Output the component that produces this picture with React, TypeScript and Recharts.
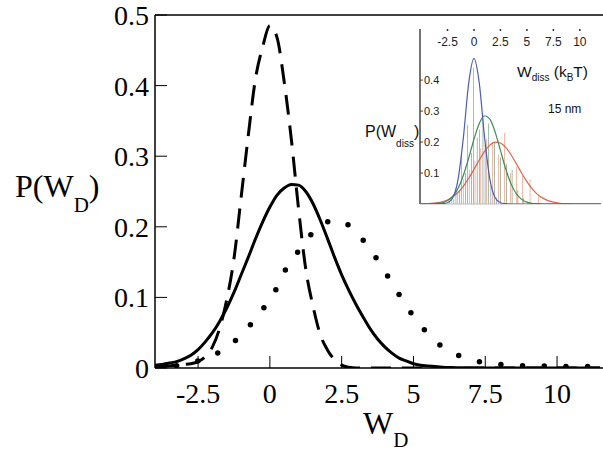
import { LineChart, Line, XAxis, YAxis, ReferenceLine, ComposedChart, Bar, Cell } from "recharts";

// main plot: W_D grid and the three distributions
const wdGrid = [
  -4, -3.75, -3.5, -3.25, -3, -2.75, -2.5, -2.25, -2, -1.75, -1.5, -1.25, -1, -0.75, -0.5, -0.25,
  0, 0.25, 0.5, 0.75, 1, 1.25, 1.5, 1.75, 2, 2.25, 2.5, 2.75, 3, 3.25, 3.5, 3.75, 4, 4.25, 4.5, 4.75,
  5, 5.25, 5.5, 5.75, 6, 6.5, 7, 7.5, 8, 8.5, 9, 9.5, 10, 10.5, 11, 11.5,
];
const dashedP = [
  0.001, 0.002, 0.003, 0.004, 0.005, 0.006, 0.009, 0.016, 0.03, 0.056, 0.097, 0.155, 0.242, 0.33, 0.41, 0.455,
  0.485, 0.468, 0.405, 0.323, 0.225, 0.14, 0.088, 0.048, 0.026, 0.012, 0.004, 0.001, 0, 0, 0, 0, 0, 0, 0, 0,
  0, 0, 0, 0, 0, 0, 0, 0, 0, 0, 0, 0, 0, 0, 0, 0,
];
const solidP = [
  0.004, 0.005, 0.007, 0.009, 0.013, 0.018, 0.026, 0.037, 0.05, 0.066, 0.085, 0.107, 0.132, 0.157, 0.183, 0.207,
  0.228, 0.245, 0.255, 0.26, 0.259, 0.25, 0.233, 0.21, 0.184, 0.157, 0.132, 0.11, 0.09, 0.072, 0.055, 0.041, 0.03, 0.021, 0.014, 0.01,
  0.006, 0.004, 0.003, 0.002, 0.001, 0.0005, 0, 0, 0, 0, 0, 0, 0, 0, 0, 0,
];
const dottedP = [
  0.001, 0.0015, 0.002, 0.003, 0.005, 0.007, 0.01, 0.013, 0.017, 0.023, 0.03, 0.037, 0.047, 0.058, 0.07, 0.083,
  0.098, 0.114, 0.136, 0.152, 0.166, 0.18, 0.192, 0.201, 0.207, 0.21, 0.208, 0.202, 0.193, 0.181, 0.168, 0.153, 0.137, 0.12, 0.104, 0.088,
  0.073, 0.06, 0.049, 0.039, 0.03, 0.019, 0.012, 0.007, 0.005, 0.004, 0.003, 0.003, 0.002, 0.002, 0.002, 0.002,
];
const wdTicks = [-2.5, 0, 2.5, 5, 7.5, 10];
const pTicks = [0, 0.1, 0.2, 0.3, 0.4, 0.5];

// inset: W_diss fits and histogram bars
const insetGrid = [
  -5, -4.5, -4, -3.5, -3, -2.5, -2, -1.5, -1, -0.5, 0, 0.5, 1, 1.5, 2, 2.5, 3, 3.5,
  4, 4.5, 5, 5.5, 6, 6.5, 7, 7.5, 8, 8.5, 9, 9.5, 10, 10.5, 11, 11.5, 12,
];
const blueFit = [
  0, 0, 0, 0, 0.001, 0.004, 0.02, 0.08, 0.215, 0.39, 0.47, 0.39, 0.215, 0.08, 0.02, 0.004, 0.001, 0,
  0, 0, 0, 0, 0, 0, 0, 0, 0, 0, 0, 0, 0, 0, 0, 0, 0,
];
const greenFit = [
  0, 0, 0.001, 0.002, 0.004, 0.011, 0.025, 0.051, 0.093, 0.148, 0.209, 0.26, 0.285, 0.274, 0.232, 0.173, 0.113, 0.065,
  0.033, 0.015, 0.006, 0.002, 0.001, 0, 0, 0, 0, 0, 0, 0, 0, 0, 0, 0, 0,
];
const redFit = [
  0.001, 0.001, 0.002, 0.004, 0.007, 0.013, 0.023, 0.038, 0.058, 0.083, 0.112, 0.142, 0.17, 0.19, 0.2, 0.197, 0.183, 0.159,
  0.13, 0.1, 0.072, 0.049, 0.031, 0.019, 0.011, 0.006, 0.003, 0.001, 0.001, 0, 0, 0, 0, 0, 0,
];
const blueBarW = [-2.3, -1.7, -1.15, -0.6, -0.05, 0.5, 1.05, 1.6, 2.15];
const blueBarH = [0.008, 0.05, 0.16, 0.255, 0.44, 0.24, 0.19, 0.06, 0.02];
const greenBarW = [-1.9, -1.35, -0.8, -0.25, 0.3, 0.85, 1.4, 1.95, 2.5, 3.05, 3.6, 4.15, 4.7];
const greenBarH = [0.015, 0.045, 0.1, 0.165, 0.215, 0.28, 0.26, 0.2, 0.15, 0.13, 0.11, 0.045, 0.02];
const orangeBarW = [-2.8, -2.15, -1.55, -1.0, -0.45, 0.1, 0.65, 1.2, 1.75, 2.3, 2.9, 3.45, 4.0, 4.6, 5.3, 6.1];
const orangeBarH = [0.01, 0.02, 0.04, 0.08, 0.11, 0.14, 0.18, 0.21, 0.2, 0.16, 0.23, 0.1, 0.12, 0.09, 0.08, 0.025];
const insetTicksX = [-2.5, 0, 2.5, 5, 7.5, 10];
const insetTicksY = [0.1, 0.2, 0.3, 0.4];

const barColors: Record<string, string> = { blue: "#4a64ab", green: "#3f7349", orange: "#e07248" };

const mainData = wdGrid.map((w, i) => ({ w, dashed: dashedP[i], solid: solidP[i], dotted: dottedP[i] }));
const fitData = insetGrid.map((w, i) => ({ w, blue: blueFit[i], green: greenFit[i], red: redFit[i] }));
const barRows = [
  ...blueBarW.map((w, i) => ({ w, h: blueBarH[i], kind: "blue" })),
  ...greenBarW.map((w, i) => ({ w, h: greenBarH[i], kind: "green" })),
  ...orangeBarW.map((w, i) => ({ w, h: orangeBarH[i], kind: "orange" })),
].sort((a, b) => a.w - b.w);

const serif = "'Liberation Serif', 'Times New Roman', serif";
const sans = "'Liberation Sans', Arial, sans-serif";

const Inset = () => (
  <div style={{ position: "absolute", left: 360, top: 22, width: 243, height: 186 }}>
    <ComposedChart width={243} height={186} data={barRows} margin={{ top: 7, right: 2, bottom: 4, left: 60 }}>
      <XAxis
        dataKey="w"
        type="number"
        orientation="top"
        mirror
        domain={[-5.1, 12]}
        allowDataOverflow
        ticks={insetTicksX}
        axisLine={false}
        tickSize={2}
        tickMargin={6}
        tickLine={{ stroke: "#333", strokeWidth: 1.5 }}
        tick={{ fontSize: 12, fill: "#222", fontFamily: sans }}
        interval={0}
      />
      <YAxis
        type="number"
        mirror
        domain={[0, 0.565]}
        allowDataOverflow
        ticks={insetTicksY}
        axisLine={{ stroke: "#444", strokeWidth: 1.5 }}
        tickSize={3}
        tickMargin={1}
        tickLine={{ stroke: "#444" }}
        tick={{ fontSize: 11, fill: "#222", fontFamily: sans }}
      />
      <YAxis yAxisId="r" orientation="right" width={0} tick={false} axisLine={{ stroke: "#555", strokeWidth: 1.5 }} />
      <ReferenceLine y={0} stroke="#bbb" />
      <Bar dataKey="h" barSize={2.5} isAnimationActive={false}>
        {barRows.map((r, i) => (
          <Cell key={i} fill={barColors[r.kind]} />
        ))}
      </Bar>
      <Line data={fitData} dataKey="red" type="monotone" stroke="#d8654f" strokeWidth={1.2} dot={false} isAnimationActive={false} />
      <Line data={fitData} dataKey="green" type="monotone" stroke="#3f8a52" strokeWidth={1.2} dot={false} isAnimationActive={false} />
      <Line data={fitData} dataKey="blue" type="monotone" stroke="#4c5eae" strokeWidth={1.2} dot={false} isAnimationActive={false} />
    </ComposedChart>
  </div>
);

export default function App() {
  return (
    <div style={{ position: "absolute", left: 0, top: 0, width: 603, height: 454, background: "#fff" }}>
      <LineChart width={603} height={454} data={mainData} margin={{ top: 15, right: 0, bottom: 0, left: 0 }}>
        <XAxis
          dataKey="w"
          type="number"
          domain={[-4, 11.6]}
          allowDataOverflow
          ticks={wdTicks}
          interval={0}
          height={86}
          tickSize={-12}
          tickMargin={27}
          axisLine={{ stroke: "#000", strokeWidth: 1.5 }}
          tickLine={{ stroke: "#000", strokeWidth: 1 }}
          tick={{ fontSize: 28, fill: "#000", fontFamily: serif }}
        />
        <YAxis
          type="number"
          domain={[0, 0.5]}
          allowDataOverflow
          ticks={pTicks}
          interval={0}
          width={155}
          tickSize={-12}
          tickMargin={18}
          axisLine={{ stroke: "#000", strokeWidth: 1.5 }}
          tickLine={{ stroke: "#000", strokeWidth: 1 }}
          tick={{ fontSize: 28, fill: "#000", fontFamily: serif }}
        />
        <ReferenceLine y={0.5} stroke="#000" strokeWidth={1.5} />
        <Line dataKey="dotted" type="monotone" stroke="#000" strokeWidth={5.5} strokeLinecap="round" strokeDasharray="0 21.7" dot={false} isAnimationActive={false} />
        <Line dataKey="solid" type="monotone" stroke="#000" strokeWidth={3} dot={false} isAnimationActive={false} />
        <Line dataKey="dashed" type="monotone" stroke="#000" strokeWidth={3} strokeDasharray="20 11" dot={false} isAnimationActive={false} />
      </LineChart>
      <Inset />
      <svg width={603} height={454} style={{ position: "absolute", left: 0, top: 0, pointerEvents: "none" }}>
        <text x={15} y={197} fontSize={32} fontFamily={serif} fill="#000">
          P(W<tspan dy={15} fontSize={21}>D</tspan>
          <tspan dy={-15}>)</tspan>
        </text>
        <text x={363} y={434} fontSize={32} fontFamily={serif} fill="#000">
          W<tspan dy={13} fontSize={21}>D</tspan>
        </text>
        <text x={517} y={77} fontSize={15.5} fontFamily={sans} fill="#111">
          W<tspan dy={4} fontSize={10}>diss</tspan>
          <tspan dy={-4}> (k</tspan>
          <tspan dy={4} fontSize={10}>B</tspan>
          <tspan dy={-4}>T)</tspan>
        </text>
        <text x={548} y={113} fontSize={12} fontFamily={sans} fill="#111">15 nm</text>
        <text x={365} y={137} fontSize={16} fontFamily={sans} fill="#111">
          P(W<tspan dy={10} fontSize={10}>diss</tspan>
          <tspan dy={-10}>)</tspan>
        </text>
      </svg>
    </div>
  );
}
